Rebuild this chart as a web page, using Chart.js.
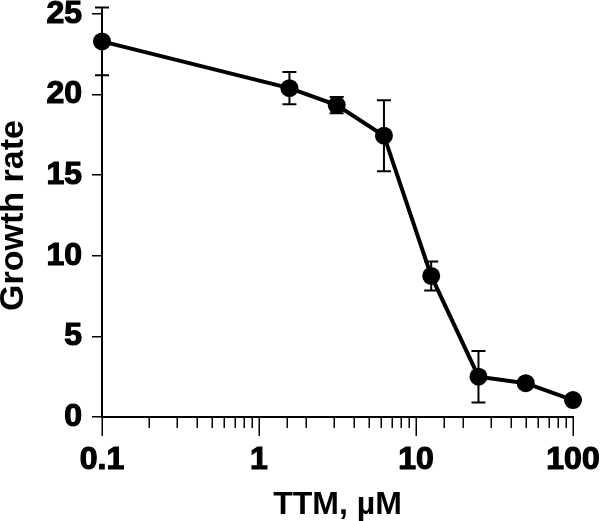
<!DOCTYPE html>
<html>
<head>
<meta charset="utf-8">
<script src="https://cdn.jsdelivr.net/npm/chart.js@4"></script>
<style>
html,body{margin:0;padding:0;background:#fff;}
#wrap{width:600px;height:521px;}
</style>
</head>
<body>
<div id="wrap"><canvas id="c" width="600" height="521"></canvas></div>
<script>
const concentrations = [0.1, 1.5625, 3.125, 6.25, 12.5, 25, 50, 100];
const growthRate = [23.3, 20.4, 19.35, 17.45, 8.75, 2.5, 2.1, 1.05];
const growthErr = [2.1, 1.0, 0.5, 2.2, 0.9, 1.6, 0, 0];
const xMajorLabels = ['0.1', '1', '10', '100'];
const yTicks = [0, 5, 10, 15, 20, 25];

const FONT = '"Liberation Sans", Arial, Helvetica, sans-serif';

const errorBars = {
  id: 'errorBars',
  beforeDatasetsDraw(chart) {
    const ctx = chart.ctx;
    const xs = chart.scales.x, ys = chart.scales.y;
    ctx.save();
    ctx.strokeStyle = '#000';
    ctx.lineWidth = 2;
    concentrations.forEach((c, i) => {
      const e = growthErr[i];
      if (!e) return;
      const px = xs.getPixelForValue(c);
      const top = ys.getPixelForValue(growthRate[i] + e);
      const bot = ys.getPixelForValue(growthRate[i] - e);
      ctx.beginPath();
      ctx.moveTo(px, top); ctx.lineTo(px, bot);
      ctx.moveTo(px - 7, top); ctx.lineTo(px + 7, top);
      ctx.moveTo(px - 7, bot); ctx.lineTo(px + 7, bot);
      ctx.stroke();
    });
    ctx.restore();
  }
};

const logTicks = {
  id: 'logTicks',
  afterDraw(chart) {
    const ctx = chart.ctx;
    const xs = chart.scales.x;
    const y0 = chart.chartArea.bottom;
    ctx.save();
    ctx.strokeStyle = '#000';
    ctx.lineWidth = 1.5;
    xs.ticks.forEach(t => {
      const v = t.value;
      const l = Math.log10(v);
      const major = Math.abs(l - Math.round(l)) < 1e-9;
      const px = Math.round(xs.getPixelForValue(v)) + 0.25;
      ctx.beginPath();
      ctx.moveTo(px, y0);
      ctx.lineTo(px, y0 + (major ? 19 : 11));
      ctx.stroke();
    });
    ctx.restore();
  }
};

new Chart(document.getElementById('c'), {
  type: 'scatter',
  data: {
    datasets: [{
      data: concentrations.map((c, i) => ({x: c, y: growthRate[i]})),
      showLine: true,
      borderColor: '#000',
      backgroundColor: '#000',
      borderWidth: 4,
      pointRadius: 9,
      pointHoverRadius: 9,
      pointBorderWidth: 0,
      clip: false
    }]
  },
  options: {
    responsive: false,
    devicePixelRatio: 1,
    animation: false,
    events: [],
    layout: {padding: {top: 14, right: 27, bottom: 0, left: 0}},
    plugins: {legend: {display: false}, tooltip: {enabled: false}},
    scales: {
      x: {
        type: 'logarithmic',
        min: 0.1, max: 100,
        afterFit(s) { s.height = 104; s.paddingLeft = 0; s.paddingRight = 0; },
        grid: {display: false},
        border: {display: true, color: '#000', width: 2},
        ticks: {
          autoSkip: false, maxRotation: 0, minRotation: 0,
          color: '#000', padding: 16,
          textStrokeColor: '#000', textStrokeWidth: 1.2,
          font: {family: FONT, size: 32, weight: 'bold'},
          callback(v) {
            const l = Math.log10(v);
            if (Math.abs(l - Math.round(l)) < 1e-9) {
              return xMajorLabels[Math.round(l) + 1];
            }
            return '';
          }
        },
        title: {
          display: true, text: 'TTM, µM', color: '#000',
          font: {family: FONT, size: 32, weight: 'bold', lineHeight: 1},
          padding: 0
        }
      },
      y: {
        min: 0, max: 25,
        afterFit(s) { s.width = 102; s.paddingTop = 0; s.paddingBottom = 0; },
        afterBuildTicks(s) { s.ticks = yTicks.map(v => ({value: v})); },
        grid: {display: true, drawOnChartArea: false, tickLength: 10, color: '#000', lineWidth: 1.5},
        border: {display: true, color: '#000', width: 2},
        ticks: {
          color: '#000', padding: 10,
          textStrokeColor: '#000', textStrokeWidth: 1.2,
          font: {family: FONT, size: 32, weight: 'bold'}
        },
        title: {
          display: true, text: 'Growth rate', color: '#000',
          font: {family: FONT, size: 34, weight: 'bold', lineHeight: 0.8},
          padding: 0
        }
      }
    }
  },
  plugins: [errorBars, logTicks]
});
</script>
</body>
</html>
